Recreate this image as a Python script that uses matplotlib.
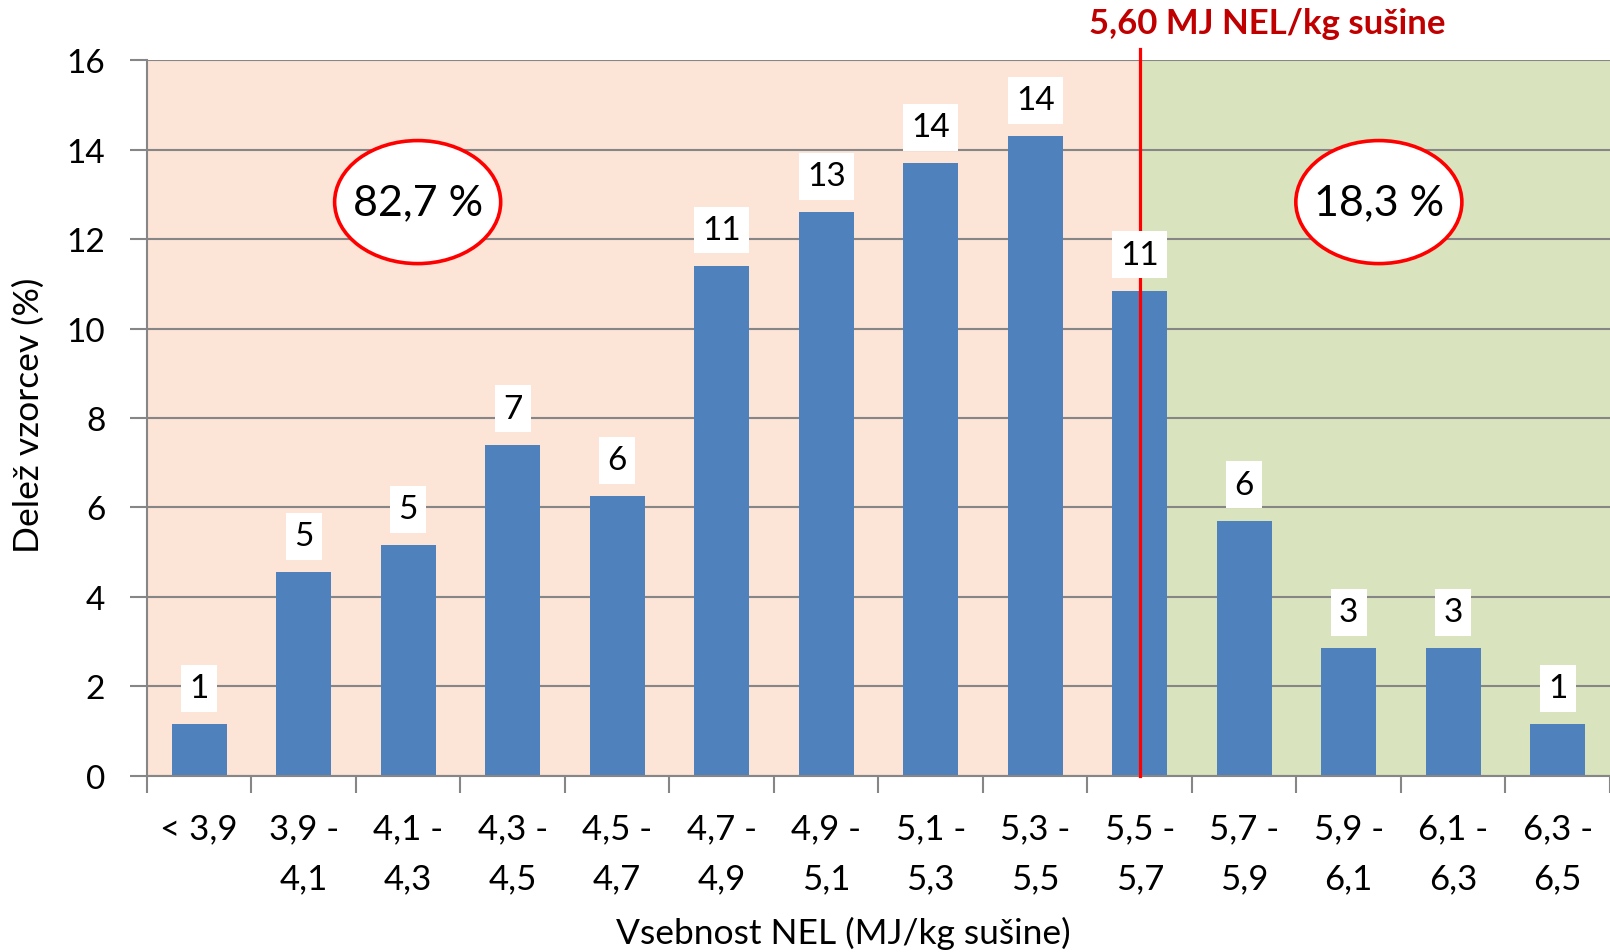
import matplotlib.pyplot as plt
from matplotlib.patches import Ellipse
import numpy as np

# Razredi vsebnosti NEL in delež vzorcev v posameznem razredu
razredi = ['< 3,9', '3,9 -\n4,1', '4,1 -\n4,3', '4,3 -\n4,5', '4,5 -\n4,7',
           '4,7 -\n4,9', '4,9 -\n5,1', '5,1 -\n5,3', '5,3 -\n5,5', '5,5 -\n5,7',
           '5,7 -\n5,9', '5,9 -\n6,1', '6,1 -\n6,3', '6,3 -\n6,5']
delez = [1.15, 4.55, 5.15, 7.4, 6.25, 11.4, 12.6, 13.7, 14.3, 10.85,
         5.7, 2.85, 2.85, 1.15]

meja_razred = 9          # razred, v katerem leži meja 5,60 MJ NEL/kg
meja_tekst = '5,60 MJ NEL/kg sušine'
pod_mejo = '82,7 %'
nad_mejo = '18,3 %'

plt.rcParams['font.family'] = ['Lato', 'DejaVu Sans']

fig = plt.figure(figsize=(16.1, 9.53), dpi=100)
ax = fig.add_axes([0.0913, 0.185, 0.9087, 0.7505])

x = np.arange(len(razredi))
ax.set_xlim(-0.5, len(razredi) - 0.5)
ax.set_ylim(0, 16)

# ozadje: pod mejo oranžno, nad mejo zeleno
ax.axvspan(-0.5, meja_razred, color='#FCE4D6', zorder=0, lw=0)
ax.axvspan(meja_razred, len(razredi) - 0.5, color='#D9E4BF', zorder=0, lw=0)

ax.set_yticks(np.arange(0, 17, 2))
ax.grid(axis='y', color='#868686', linewidth=1.5, zorder=1)
ax.set_axisbelow(True)

ax.bar(x, delez, width=0.53, color='#4F81BD', zorder=2)

# mejna vrednost
ax.axvline(meja_razred, ymin=0, ymax=1.0154, color='#FF0000', linewidth=2.3,
           zorder=3, clip_on=False)
ax.text(0.766, 1.0517, meja_tekst, transform=ax.transAxes, ha='center',
        va='center', fontsize=25, fontweight='bold', color='#C00000')

# oznake vrednosti nad stolpci
for xi, v in zip(x, delez):
    ax.annotate(f'{v:.0f}', (xi, v), xytext=(0, 26), textcoords='offset points',
                ha='center', va='center', fontsize=24, zorder=5,
                bbox=dict(boxstyle='square,pad=0.25', fc='white', ec='none'))

# deleža pod in nad mejo
for xc, tekst in [(0.185, pod_mejo), (0.842, nad_mejo)]:
    ax.add_patch(Ellipse((xc, 0.802), 0.1135, 0.172, transform=ax.transAxes,
                         facecolor='white', edgecolor='#FF0000', linewidth=2.6,
                         zorder=6))
    ax.text(xc, 0.802, tekst, transform=ax.transAxes, ha='center', va='center',
            fontsize=31, zorder=7)

ax.set_xticks(x)
ax.set_xticklabels(razredi, fontsize=25, linespacing=1.7, va='top')
ax.set_xticks(np.arange(-0.5, len(razredi)), minor=True)
ax.tick_params(axis='x', which='major', length=0, pad=26)
ax.tick_params(axis='x', which='minor', length=12, width=1.5, color='#868686')
ax.tick_params(axis='y', length=12, width=1.5, color='#868686', pad=18,
               labelsize=24)

for s in ['top', 'right']:
    ax.spines[s].set_visible(False)
for s in ['left', 'bottom']:
    ax.spines[s].set_color('#868686')
    ax.spines[s].set_linewidth(1.5)

ax.set_xlabel('Vsebnost NEL (MJ/kg sušine)', fontsize=25.5)
ax.xaxis.set_label_coords(0.476, -0.196)
ax.set_ylabel('Delež vzorcev (%)', fontsize=25.5)
ax.yaxis.set_label_coords(-0.07, 0.505)

fig.savefig('out.png', dpi=100)
